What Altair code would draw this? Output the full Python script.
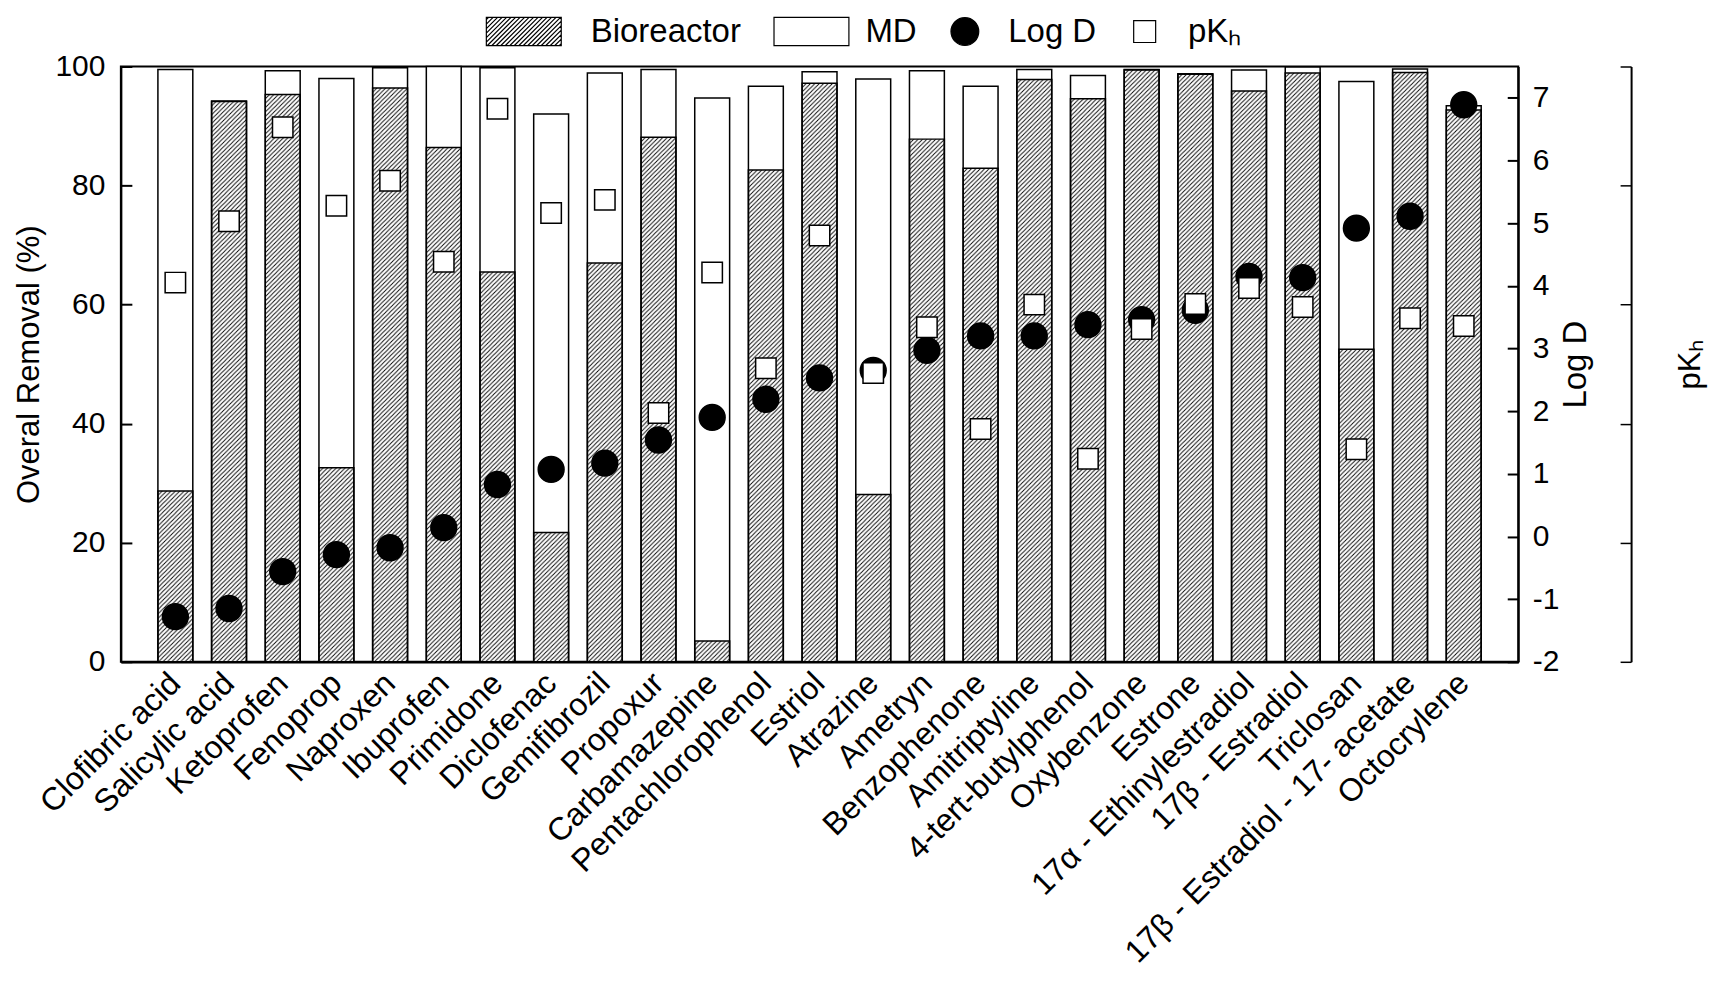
import base64
import altair as alt
import pandas as pd

# ---------------- data ----------------
compounds = [
    "Clofibric acid", "Salicylic acid", "Ketoprofen", "Fenoprop", "Naproxen",
    "Ibuprofen", "Primidone", "Diclofenac", "Gemifibrozil", "Propoxur",
    "Carbamazepine", "Pentachlorophenol", "Estriol", "Atrazine", "Ametryn",
    "Benzophenone", "Amitriptyline", "4-tert-butylphenol", "Oxybenzone", "Estrone",
    "17α - Ethinylestradiol", "17β - Estradiol", "Triclosan",
    "17β - Estradiol - 17- acetate", "Octocrylene",
]
bioreactor = [28.7, 94.1, 95.3, 32.6, 96.4, 86.4, 65.5, 21.7, 67.0, 88.1,
              3.5, 82.6, 97.2, 28.1, 87.8, 82.9, 97.8, 94.6, 99.4, 98.7,
              95.9, 98.9, 52.5, 99.0, 92.7]
overall = [99.5, 94.2, 99.3, 98.0, 99.8, 100.0, 99.8, 92.0, 98.9, 99.5,
           94.7, 96.7, 99.1, 97.9, 99.3, 96.7, 99.5, 98.5, 99.5, 98.8,
           99.4, 99.9, 97.5, 99.6, 93.4]
log_d = [-1.28, -1.15, -0.56, -0.29, -0.18, 0.14, 0.83, 1.07, 1.17, 1.54,
         1.90, 2.19, 2.53, 2.65, 2.97, 3.20, 3.20, 3.38, 3.46, 3.61,
         4.15, 4.13, 4.92, 5.11, 6.89]
pk_h = [6.37, 7.40, 8.98, 7.66, 8.08, 6.72, 9.29, 7.54, 7.76, 4.18,
        6.54, 4.93, 7.16, 4.85, 5.62, 3.91, 6.00, 3.41, 5.59, 6.01,
        6.28, 5.96, 3.57, 5.77, 5.64]
series = ["Bioreactor", "MD", "Log D", "pKₕ"]

df = pd.DataFrame({
    "compound": compounds,
    "bio": bioreactor,
    "total": overall,
    "logd": log_d,
    "pkh": pk_h,
})

FONT = "Liberation Sans"

# ---------------- styles ----------------
hatch_svg = (
    '<svg xmlns="http://www.w3.org/2000/svg" width="100%" height="100%">'
    '<defs><pattern id="h" width="4.4" height="4.4" patternUnits="userSpaceOnUse">'
    '<path d="M-1.1,1.1L1.1,-1.1M0,4.4L4.4,0M3.3,5.5L5.5,3.3" stroke="#000" '
    'stroke-width="0.9" fill="none"/>'
    '</pattern></defs><rect width="100%" height="100%" fill="url(#h)"/></svg>'
)
hatch_uri = "data:image/svg+xml;base64," + base64.b64encode(hatch_svg.encode()).decode()

# legend symbol radius (px) = sqrt(symbolSize) / 2
LEG_R = 17.0
U = 1.0 / LEG_R  # one pixel in symbol units (legend)


def rect_path(xl, xr, h):
    return f"M{xl:.3f},{-h:.3f}H{xr:.3f}V{h:.3f}H{xl:.3f}Z"


def hatched_rect(xl, xr, h, step):
    parts = [rect_path(xl, xr, h)]
    c = xl - h + step / 2
    while c < xr + h:
        x1 = max(xl, c - h)
        x2 = min(xr, c + h)
        if x2 > x1:
            parts.append(f"M{x1:.3f},{c - x1:.3f}L{x2:.3f},{c - x2:.3f}")
        c += step
    return "".join(parts)


def circle_path(r):
    return f"M{r:.3f},0A{r:.3f},{r:.3f},0,1,1,{-r:.3f},0A{r:.3f},{r:.3f},0,1,1,{r:.3f},0Z"


shape_range = [
    hatched_rect(-61.1 * U, 13.9 * U, 14.2 * U, 4.5 * U),
    rect_path(-48.1 * U, 26.9 * U, 14.2 * U),
    circle_path(13.9 * U),
    rect_path(-11.0 * U, 11.0 * U, 11.0 * U),
]
shape_scale = alt.Scale(domain=series, range=shape_range)
fill_scale = alt.Scale(domain=series, range=["white", "white", "black", "white"])
stroke_scale = alt.Scale(domain=series, range=["black", "black", "black", "black"])

legend = alt.Legend(
    title=None, orient="none", legendX=409, legendY=-53, direction="horizontal",
    symbolSize=(2 * LEG_R) ** 2, labelFontSize=33, labelOffset=25.4, columnPadding=30,
    symbolStrokeWidth=1.2, labelColor="black", labelFont=FONT,
)

inward = {"expr": "-11"}
hyphen = "replace(datum.label, '\u2212', '-')"

x_enc = alt.X(
    "compound:N", sort=compounds,
    scale=alt.Scale(paddingInner=0.35, paddingOuter=0.69),
    axis=alt.Axis(
        title=None, labelAngle=315, labelAlign="right", labelBaseline="middle",
        labelFontSize=32, labelLimit=1000, ticks=False, domainColor="black",
        domainWidth=2.5, labelPadding=16, labelColor="black", labelOverlap=False,
    ),
)

y_scale = alt.Scale(domain=[0, 100], nice=False)
y_axis = alt.Axis(
    title="Overal Removal (%)", values=[0, 20, 40, 60, 80, 100], titleFontSize=31,
    titleFontWeight="normal", titleColor="black", labelFontSize=30, labelColor="black",
    ticks=True, tickSize=inward, tickColor="black", tickWidth=2, grid=False,
    domainColor="black", domainWidth=2, labelPadding=27, titlePadding=9,
)

base = alt.Chart(df)

md_bars = base.mark_bar(fill="white", stroke="black", strokeWidth=1.5).encode(
    x=x_enc, y=alt.Y("total:Q", scale=y_scale, axis=y_axis)
)
hatch = base.mark_image(aspect=False).encode(
    x=x_enc, y=alt.Y("bio:Q", scale=y_scale, axis=y_axis), y2=alt.datum(0),
    url=alt.value(hatch_uri),
)
bio_outline = base.mark_bar(filled=False, stroke="black", strokeWidth=1.5).encode(
    x=x_enc, y=alt.Y("bio:Q", scale=y_scale, axis=y_axis)
)
bars = alt.layer(md_bars, hatch, bio_outline)

d_scale = alt.Scale(domain=[-2, 7.5], nice=False, zero=False)
k_scale = alt.Scale(domain=[0, 10], nice=False, zero=False)

PT_SIZE = (2 * LEG_R * 0.93) ** 2

logd_pts = base.transform_calculate(series="'Log D'").mark_point(
    filled=True, opacity=1, strokeWidth=1.5, size=PT_SIZE
).encode(
    x=x_enc,
    y=alt.Y("logd:Q", scale=d_scale, axis=alt.Axis(
        orient="right", title="Log D", titleAngle=270, titleBaseline="top",
        values=list(range(-2, 8)), labelExpr=hyphen,
        titleFontSize=33, titleFontWeight="normal", titleColor="black",
        labelFontSize=30, labelColor="black", ticks=True, tickSize=inward,
        tickColor="black", tickWidth=2, grid=False, domainColor="black",
        domainWidth=2, labelPadding=25, titlePadding=1,
    )),
    shape=alt.Shape("series:N", scale=shape_scale, legend=legend),
    fill=alt.Fill("series:N", scale=fill_scale, legend=legend),
    stroke=alt.Stroke("series:N", scale=stroke_scale, legend=legend),
)

pkh_pts = base.transform_calculate(series="'pKₕ'").mark_point(
    filled=True, opacity=1, strokeWidth=1.5, size=PT_SIZE
).encode(
    x=x_enc,
    y=alt.Y("pkh:Q", scale=k_scale, axis=alt.Axis(
        orient="right", offset=113, title="pKₕ", titleAngle=270, titleBaseline="top",
        values=[0, 2, 4, 6, 8, 10], labels=False, ticks=True, tickSize=inward,
        tickColor="black", tickWidth=1.5, grid=False,
        titleFontSize=31, titleFontWeight="normal", titleColor="black",
        domainColor="black", domainWidth=2, titlePadding=44,
    )),
    shape=alt.Shape("series:N", scale=shape_scale, legend=legend),
    fill=alt.Fill("series:N", scale=fill_scale, legend=legend),
    stroke=alt.Stroke("series:N", scale=stroke_scale, legend=legend),
)

chart = (
    alt.layer(bars, logd_pts, pkh_pts)
    .resolve_scale(y="independent")
    .properties(width=1399, height=596, background="white")
    .configure(font=FONT)
    .configure_view(stroke="black", strokeWidth=2)
)

chart.save("out.html", embed_options={"renderer": "svg", "actions": False})
